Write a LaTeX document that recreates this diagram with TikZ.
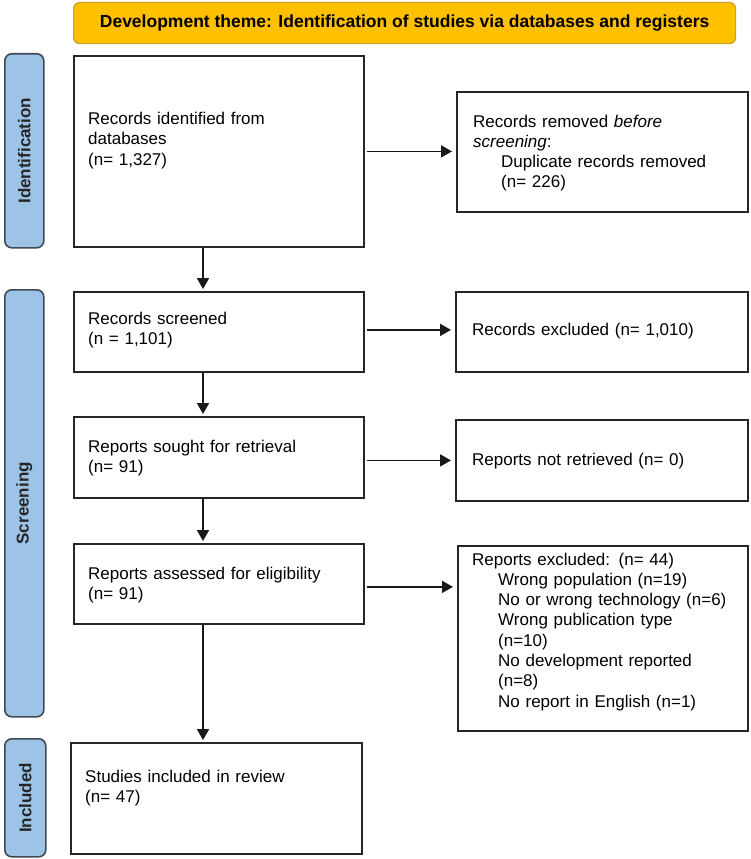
\documentclass[tikz,border=0pt]{standalone}
\usepackage{fontspec}
\setmainfont{Liberation Sans}
\usetikzlibrary{arrows.meta}
\definecolor{hdrfill}{HTML}{FFC000}
\definecolor{hdrline}{HTML}{C9A227}
\definecolor{barfill}{HTML}{9DC3E6}
\definecolor{barline}{HTML}{3E4A57}
\begin{document}
\begin{tikzpicture}[x=1pt,y=-1pt,
  box/.style={draw=black!85, line width=1.8pt, inner sep=0pt, anchor=north west},
  txt/.style={inner sep=0pt, anchor=base west, text width=#1, align=left,
    font=\fontsize{17}{20.3}\selectfont},
  bar/.style={draw=barline, fill=barfill, line width=1.6pt, rounded corners=7pt,
    inner sep=0pt, anchor=north west},
  barlbl/.style={rotate=90, inner sep=0pt, font=\bfseries\fontsize{17}{20}\selectfont, text=black!85},
  hdr/.style={draw=hdrline, fill=hdrfill, line width=1.2pt, rounded corners=6pt,
    inner sep=0pt, anchor=north west, font=\bfseries\fontsize{17.5}{20}\selectfont},
  arr/.style={line width=1.8pt, draw=black!90, -{Triangle[length=11pt,width=12pt]}}
]
\fill[white] (0,0) rectangle (750,859);
\useasboundingbox (0,0) rectangle (750,859);

% header
\node[hdr, minimum width=662pt, minimum height=41pt] (hdr) at (73,2)
  {Development theme: Identification of studies via databases and registers};

% side bars
\node[bar, minimum width=39pt, minimum height=194pt] (idbar) at (4,53) {};
\node[barlbl] (idlbl) at (idbar.center) {Identification};
\node[bar, minimum width=39pt, minimum height=427pt] (scbar) at (4,289) {};
\node[barlbl] (sclbl) at (scbar.center) {Screening};
\node[bar, minimum width=41pt, minimum height=118pt] (inbar) at (4,738) {};
\node[barlbl] (inlbl) at (inbar.center) {Included};

% left column boxes
\node[box, minimum width=290pt, minimum height=191pt] (b1) at (73,55) {};
\node[txt=270pt] (t1) at (88,124.5) {Records identified from\\databases\\(n= 1,327)};

\node[box, minimum width=290pt, minimum height=80pt] (b2) at (73,291) {};
\node[txt=270pt] (t2) at (88,324.5) {Records screened\\(n = 1,101)};

\node[box, minimum width=290pt, minimum height=81pt] (b3) at (73,416) {};
\node[txt=270pt] (t3) at (88,452.5) {Reports sought for retrieval\\(n= 91)};

\node[box, minimum width=290pt, minimum height=80pt] (b4) at (73,543) {};
\node[txt=270pt] (t4) at (88,579) {Reports assessed for eligibility\\(n= 91)};

\node[box, minimum width=291pt, minimum height=111pt] (b5) at (70,742) {};
\node[txt=270pt] (t5) at (85,782) {Studies included in review\\(n= 47)};

% right column boxes
\node[box, minimum width=291pt, minimum height=120pt] (r1) at (456,91) {};
\node[txt=270pt] (u1) at (473,127) {Records removed \textit{before}\\\textit{screening}:\\
  \hspace*{28pt}Duplicate records removed\\\hspace*{28pt}(n= 226)};

\node[box, minimum width=292pt, minimum height=80pt] (r2) at (455,291) {};
\node[txt=270pt] (u2) at (472,335) {Records excluded (n= 1,010)};

\node[box, minimum width=292pt, minimum height=81pt] (r3) at (455,419) {};
\node[txt=270pt] (u3) at (472,465) {Reports not retrieved (n= 0)};

\node[box, minimum width=290pt, minimum height=185pt] (r4) at (457,545) {};
\node[txt=280pt] (u4) at (472,565) {Reports excluded: (n= 44)\\
  \hspace*{26pt}Wrong population (n=19)\\
  \hspace*{26pt}No or wrong technology (n=6)\\
  \hspace*{26pt}Wrong publication type\\
  \hspace*{26pt}(n=10)\\
  \hspace*{26pt}No development reported\\
  \hspace*{26pt}(n=8)\\
  \hspace*{26pt}No report in English (n=1)};

% connectors
\coordinate (ax) at (203,0);
\draw[arr, shorten >=2pt] (b1.south -| ax) -- (b2.north -| ax);
\draw[arr, shorten >=2pt] (b2.south -| ax) -- (b3.north -| ax);
\draw[arr, shorten >=2pt] (b3.south -| ax) -- (b4.north -| ax);
\draw[arr, shorten >=2pt] (b4.south -| ax) -- (b5.north -| ax);

\draw[arr] ([xshift=2pt]b1.east) -- ([xshift=-4pt]b1.east -| r1.west);
\draw[arr] ([xshift=2pt,yshift=2pt]b2.east) -- ([xshift=-4pt,yshift=2pt]b2.east -| r2.west);
\draw[arr] ([xshift=2pt,yshift=-3pt]b3.east) -- ([xshift=-4pt,yshift=-3pt]b3.east -| r3.west);
\draw[arr] ([xshift=2pt,yshift=-3pt]b4.east) -- ([xshift=-4pt,yshift=-3pt]b4.east -| r4.west);
\end{tikzpicture}
\end{document}
